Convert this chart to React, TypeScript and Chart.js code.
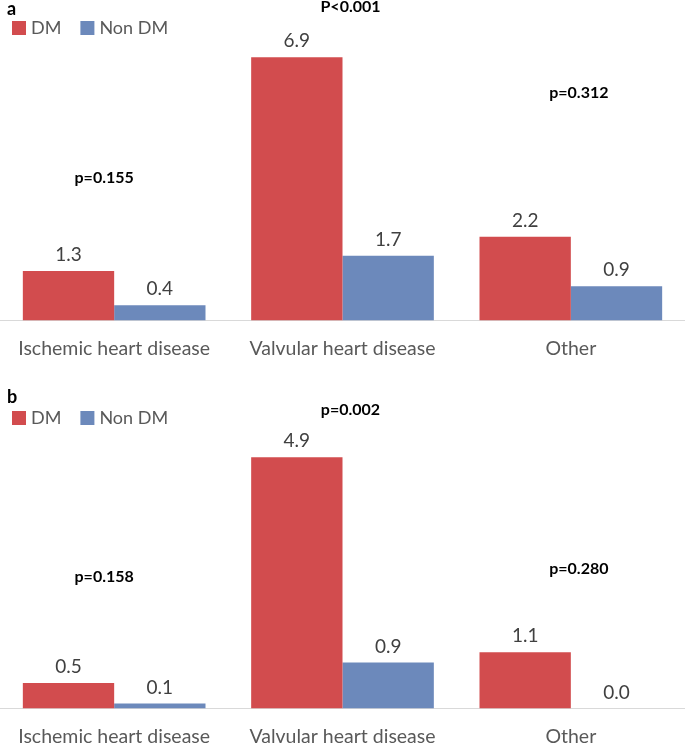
import React, { useEffect, useRef } from "react";
import { Chart, registerables } from "chart.js";

Chart.register(...registerables);

const categories = ["Ischemic heart disease", "Valvular heart disease", "Other"];
const seriesNames = ["DM", "Non DM"];
const panelADM = [1.3, 6.9, 2.2];
const panelANonDM = [0.4, 1.7, 0.9];
const panelBDM = [0.5, 4.9, 1.1];
const panelBNonDM = [0.1, 0.9, 0.0];
const panelAPLabels = ["p=0.155", "P<0.001", "p=0.312"];
const panelBPLabels = ["p=0.158", "p=0.002", "p=0.280"];
// vertical position of the p-value labels, in data units
const panelAPLevels = [3.73, 8.22, 5.96];
const panelBPLevels = [2.56, 5.82, 2.73];

const RED = "#D24C4E";
const BLUE = "#6C89BB";
const FONT = "Lato";

type PanelProps = {
  letter: string;
  dm: number[];
  nonDm: number[];
  pLabels: string[];
  pLevels: number[];
  yMax: number;
  top: number;
  height: number;
  legendY: number;
};

function Panel(props: PanelProps) {
  const ref = useRef<HTMLCanvasElement | null>(null);
  useEffect(() => {
    const canvas = ref.current;
    if (!canvas) return;
    const pOffsets = [-10, 8, 8];
    const overlay = {
      id: "overlay",
      afterDatasetsDraw(chart: any) {
        const ctx = chart.ctx;
        ctx.save();
        // value labels
        ctx.font = `19px ${FONT}`;
        ctx.fillStyle = "#404040";
        ctx.textAlign = "center";
        ctx.textBaseline = "middle";
        chart.data.datasets.forEach((ds: any, di: number) => {
          const meta = chart.getDatasetMeta(di);
          meta.data.forEach((bar: any, i: number) => {
            ctx.fillText(Number(ds.data[i]).toFixed(1), bar.x, bar.y - 16);
          });
        });
        // p-values
        const xs = chart.scales.x;
        const ys = chart.scales.y;
        ctx.font = `bold 16px ${FONT}`;
        ctx.fillStyle = "#000000";
        props.pLabels.forEach((t, i) => {
          ctx.fillText(t, xs.getPixelForValue(i) + pOffsets[i], ys.getPixelForValue(props.pLevels[i]));
        });
        // panel letter
        ctx.font = `bold 18px ${FONT}`;
        ctx.textAlign = "left";
        ctx.fillText(props.letter, 7, 9);
        // legend
        ctx.font = `18px ${FONT}`;
        let x = 12;
        const y = props.legendY;
        chart.data.datasets.forEach((ds: any) => {
          ctx.fillStyle = ds.backgroundColor;
          ctx.fillRect(x, y - 7, 14, 14);
          ctx.fillStyle = "#595959";
          ctx.fillText(ds.label, x + 19, y);
          x += 19 + ctx.measureText(ds.label).width + 19;
        });
        ctx.restore();
      },
    };
    const chart = new Chart(canvas, {
      type: "bar",
      data: {
        labels: categories,
        datasets: [
          { label: seriesNames[0], data: props.dm, backgroundColor: RED, borderWidth: 0 },
          { label: seriesNames[1], data: props.nonDm, backgroundColor: BLUE, borderWidth: 0 },
        ],
      },
      options: {
        responsive: false,
        animation: false,
        events: [],
        layout: { padding: 0 },
        datasets: { bar: { categoryPercentage: 0.8, barPercentage: 1.0 } },
        plugins: { legend: { display: false }, tooltip: { enabled: false }, title: { display: false } },
        scales: {
          x: {
            grid: { display: false, drawTicks: false },
            border: { display: true, color: "#D9D9D9", width: 1 },
            ticks: { color: "#595959", font: { family: FONT, size: 19.5 }, padding: 16 },
          },
          y: { display: false, min: 0, max: props.yMax },
        },
      },
      plugins: [overlay],
    });
    return () => chart.destroy();
  }, []);
  return (
    <canvas
      ref={ref}
      width={685}
      height={props.height}
      style={{ position: "absolute", left: 0, top: props.top, width: 685, height: props.height }}
    />
  );
}

export default function App() {
  return (
    <div
      style={{
        position: "absolute",
        left: 0,
        top: 0,
        width: 685,
        height: 743,
        overflow: "hidden",
        background: "#ffffff",
      }}
    >
      <Panel letter="a" dm={panelADM} nonDm={panelANonDM} pLabels={panelAPLabels} pLevels={panelAPLevels} yMax={8.4} top={0} height={376} legendY={28} />
      <Panel letter="b" dm={panelBDM} nonDm={panelBNonDM} pLabels={panelBPLabels} pLevels={panelBPLevels} yMax={6.25} top={388} height={376} legendY={30} />
    </div>
  );
}
